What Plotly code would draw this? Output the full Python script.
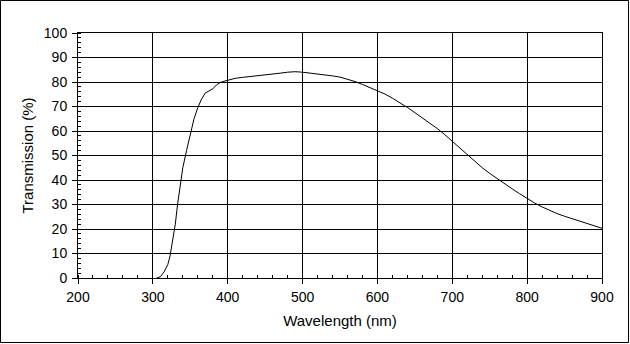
import plotly.graph_objects as go

wavelength = [305, 310, 315, 320, 323, 326, 330, 333, 336, 340, 345, 350, 355, 360, 365,
              370, 375, 380, 385, 390, 395, 400, 410, 420, 430, 440, 450, 460, 470, 480,
              490, 500, 510, 520, 530, 540, 550, 560, 570, 580, 590, 600, 610, 620, 630,
              640, 650, 660, 670, 680, 690, 700, 710, 720, 730, 740, 750, 760, 770, 780,
              790, 800, 810, 820, 830, 840, 850, 860, 870, 880, 890, 900]
transmission = [0.0, 0.5, 2.5, 5.5, 9.0, 14.0, 22.0, 30.0, 37.0, 45.0, 52.0, 59.0, 65.0, 69.5, 73.0,
                75.5, 76.3, 77.2, 78.8, 79.8, 80.3, 80.8, 81.5, 81.9, 82.2, 82.4, 82.9, 83.2, 83.6, 84.0,
                84.2, 84.0, 83.7, 83.3, 83.0, 82.5, 82.0, 81.2, 80.2, 79.0, 77.8, 76.5, 75.1, 73.4, 71.6,
                69.6, 67.5, 65.4, 63.3, 61.0, 58.5, 55.8, 53.0, 50.3, 47.6, 45.0, 42.7, 40.5, 38.4, 36.4,
                34.4, 32.4, 30.6, 29.0, 27.6, 26.3, 25.2, 24.2, 23.2, 22.2, 21.3, 20.3]

x_title = "Wavelength (nm)"
y_title = "Transmission (%)"

FONT = "Liberation Sans, Arial, sans-serif"

fig = go.Figure()
fig.add_trace(go.Scatter(x=wavelength, y=transmission, mode="lines",
                         line=dict(color="black", width=1), showlegend=False))

W, H = 630, 344
L, R, T, B = 78, 28, 33, 66
pw, ph = W - L - R, H - T - B

axis_common = dict(
    showline=True, linecolor="black", linewidth=1, mirror=True,
    showgrid=True, gridcolor="black", gridwidth=1,
    ticks="outside", ticklen=5, tickcolor="black", tickwidth=1,
    zeroline=False,
    tickfont=dict(family=FONT, size=14, color="black"),
)

fig.update_xaxes(range=[200, 900], dtick=100, tick0=200,
                 minor=dict(dtick=20, ticks="inside", ticklen=3, tickcolor="black", showgrid=False),
                 ticklabelstandoff=1,
                 title=dict(text=x_title, font=dict(family=FONT, size=15, color="black"), standoff=11),
                 **axis_common)
fig.update_yaxes(range=[0, 100], dtick=10, tick0=0,
                 minor=dict(dtick=2, ticks="inside", ticklen=3, tickcolor="black", showgrid=False),
                 ticklabelstandoff=2,
                 title=dict(text=y_title, font=dict(family=FONT, size=15, color="black"), standoff=6),
                 **axis_common)

# outer frame around the whole picture
fig.add_shape(type="rect", xref="paper", yref="paper",
              x0=(0.5 - L) / pw, x1=(628.5 - L) / pw,
              y0=(H - B - 342.5) / ph, y1=(H - B - 0.5) / ph,
              line=dict(color="black", width=1), layer="above")

fig.update_layout(width=W, height=H, margin=dict(l=L, r=R, t=T, b=B, autoexpand=False),
                  paper_bgcolor="white", plot_bgcolor="white",
                  font=dict(family=FONT, color="black"))

fig.write_html("out.html")
